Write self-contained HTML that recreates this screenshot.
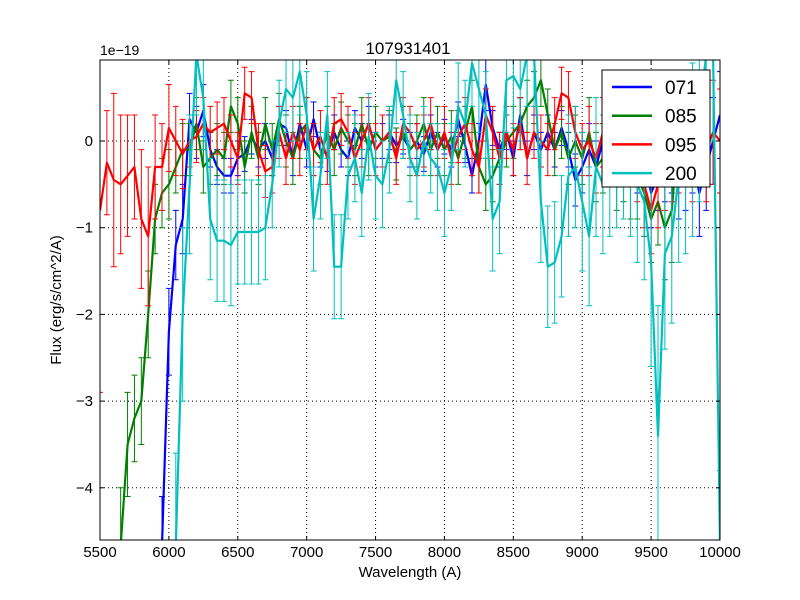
<!DOCTYPE html>
<html><head><meta charset="utf-8"><style>
html,body{margin:0;padding:0;background:#fff;font-family:"Liberation Sans",sans-serif;width:800px;height:600px;overflow:hidden}
svg{display:block}
svg text{font-family:"Liberation Sans",sans-serif}
</style></head><body>
<svg id="chart" width="800" height="600" xmlns="http://www.w3.org/2000/svg">
<rect width="800" height="600" fill="#fff"/>
<defs><clipPath id="pc"><rect x="100" y="60" width="620" height="480"/></clipPath></defs>
<g id="grid"></g>
<g id="series" clip-path="url(#pc)"></g>
<rect x="100" y="60" width="620" height="480" fill="none" stroke="#000"/>
<g id="ticks"></g>
<text x="408" y="54" text-anchor="middle" font-size="17">107931401</text>
<text x="100" y="55" font-size="14">1e−19</text>
<text x="410" y="577" text-anchor="middle" font-size="15">Wavelength (A)</text>
<text transform="translate(61,300) rotate(-90)" text-anchor="middle" font-size="15">Flux (erg/s/cm^2/A)</text>
<g id="legend">
<rect x="602" y="70" width="108" height="117" fill="#fff" stroke="#000"/>
</g>
</svg>
<script>
const xTicks=[5500,6000,6500,7000,7500,8000,8500,9000,9500,10000];
const yTicks=[0,-1,-2,-3,-4];
const yTickLabels=["0","−1","−2","−3","−4"];
const names=["071","085","095","200"];
const colors=["#0000ff","#008000","#ff0000","#00bfbf"];
const starts=[5950,5650,5500,6050];
const blueVals=[-4.7,-2.2,-1.2,-0.9,0.25,0.1,0.35,-0.1,-0.3,-0.4,-0.4,-0.2,-0.15,0.05,-0.1,0.0,-0.2,0.2,0.15,-0.2,0.2,-0.1,0.25,-0.1,-0.15,0.1,-0.1,-0.2,0.15,0.0,0.2,-0.1,0.0,0.1,-0.05,0.05,-0.1,0.0,-0.15,0.1,-0.1,0.05,-0.1,0.25,-0.05,-0.4,0.0,0.65,0.15,-0.1,0.1,-0.2,0.3,-0.2,0.1,-0.1,0.1,-0.1,0.15,-0.1,-0.45,-0.3,-0.1,-0.3,0.0,-0.2,0.1,-0.1,0.0,-0.3,-0.2,-0.6,-0.4,-0.3,-0.2,-0.5,-0.4,-0.2,-0.6,-0.3,0.0,0.3];
const blueErr=[0.6,0.5,0.4,0.4,0.3,0.3,0.3,0.2,0.2,0.2,0.2,0.2,0.2,0.2,0.2,0.2,0.2,0.2,0.2,0.2,0.2,0.2,0.2,0.2,0.2,0.2,0.2,0.2,0.2,0.2,0.2,0.2,0.2,0.2,0.2,0.2,0.2,0.2,0.2,0.2,0.2,0.2,0.2,0.2,0.2,0.2,0.2,0.3,0.2,0.2,0.2,0.2,0.2,0.2,0.2,0.2,0.2,0.2,0.2,0.2,0.3,0.3,0.3,0.3,0.3,0.3,0.3,0.3,0.3,0.3,0.3,0.4,0.4,0.4,0.4,0.4,0.4,0.4,0.5,0.5,0.5,0.5];
const greenVals=[-4.8,-3.5,-3.2,-3.0,-2.0,-0.9,-0.6,-0.5,-0.3,-0.1,-0.1,0.2,-0.3,-0.2,-0.1,-0.2,0.4,0.2,-0.3,0.1,-0.2,0.2,-0.1,0.25,0.0,-0.2,0.1,0.2,-0.1,-0.2,0.1,-0.1,0.15,0.0,-0.1,0.2,-0.1,0.1,0.0,0.05,-0.15,0.1,-0.1,0.0,0.2,-0.1,0.1,-0.1,0.05,-0.2,0.1,0.4,-0.3,-0.5,-0.4,-0.2,0.0,0.1,0.2,0.4,0.5,0.7,0.3,-0.1,0.1,-0.2,0.0,-0.2,0.1,-0.3,-0.2,0.0,-0.4,-0.3,-0.5,-0.4,-0.6,-0.9,-0.7,-1.0,-0.8,0.2];
const greenErr=[0.8,0.6,0.5,0.5,0.5,0.4,0.4,0.4,0.3,0.3,0.3,0.3,0.3,0.3,0.3,0.3,0.3,0.3,0.3,0.3,0.3,0.3,0.3,0.3,0.3,0.3,0.3,0.3,0.3,0.3,0.3,0.3,0.3,0.3,0.3,0.3,0.3,0.3,0.3,0.3,0.3,0.3,0.3,0.3,0.3,0.3,0.3,0.3,0.3,0.3,0.3,0.3,0.3,0.3,0.3,0.3,0.3,0.3,0.3,0.3,0.3,0.3,0.3,0.3,0.3,0.3,0.3,0.3,0.4,0.4,0.4,0.4,0.4,0.4,0.4,0.5,0.5,0.5,0.5,0.6,0.6,0.6];
const redVals=[-0.8,-0.25,-0.45,-0.5,-0.4,-0.3,-0.9,-1.1,-0.3,-0.3,0.15,0.0,-0.15,0.0,0.05,0.2,0.1,0.15,0.2,0.0,-0.2,0.55,0.5,-0.1,-0.35,-0.3,0.1,-0.2,0.1,-0.1,0.2,-0.1,0.05,-0.2,0.2,0.25,0.1,-0.2,0.0,0.2,-0.1,0.0,0.1,-0.2,0.2,0.1,-0.1,0.0,0.2,-0.1,0.1,-0.2,0.05,0.2,-0.1,-0.3,0.3,0.1,-0.2,0.1,-0.1,0.2,-0.2,0.1,0.0,-0.1,0.2,0.55,0.5,0.1,-0.1,0.0,-0.2,0.1,-0.1,0.0,0.2,-0.1,-0.3,-0.5,-0.8,-0.5,-0.3,-0.2,-0.1,0.1,-0.2,0.0,-0.1,0.1,0.0];
const redErr=[2.1,0.6,1.0,0.8,0.7,0.6,0.8,0.8,0.6,0.5,0.5,0.4,0.4,0.3,0.3,0.3,0.3,0.3,0.3,0.3,0.3,0.3,0.3,0.3,0.3,0.3,0.3,0.3,0.3,0.3,0.3,0.3,0.3,0.3,0.3,0.3,0.3,0.3,0.3,0.3,0.3,0.3,0.3,0.3,0.3,0.3,0.3,0.3,0.3,0.3,0.3,0.3,0.3,0.3,0.3,0.3,0.3,0.3,0.3,0.3,0.3,0.3,0.3,0.3,0.3,0.3,0.3,0.3,0.3,0.3,0.3,0.4,0.4,0.4,0.4,0.4,0.4,0.4,0.4,0.5,0.5,0.5,0.5,0.5,0.5,0.5,0.5,0.5,0.6,0.6,0.6];
const cyanVals=[-4.8,-2.0,-0.5,1.0,0.5,-0.9,-1.15,-1.15,-1.2,-1.05,-1.05,-1.05,-1.05,-1.0,-0.5,0.2,0.6,0.5,0.8,0.3,-0.9,-0.4,0.3,-1.45,-1.45,-0.4,-0.2,-0.6,0.05,-0.4,-0.5,-0.1,0.7,0.3,-0.2,-0.4,0.0,-0.2,-0.3,-0.6,-0.3,0.4,0.2,0.9,0.6,0.3,-0.9,-0.7,0.7,0.75,0.6,1.0,1.0,-0.7,-1.45,-1.4,-1.1,-0.4,-0.3,-0.7,-1.1,-0.3,-0.5,-0.3,-0.2,-0.1,-0.3,-0.5,-0.7,-1.4,-3.4,-1.3,-1.1,-0.4,-0.3,-0.1,0.3,1.0,1.0,-4.8];
const cyanErr=[1.2,1.0,0.8,0.7,0.6,0.7,0.7,0.7,0.7,0.6,0.6,0.6,0.6,0.6,0.5,0.5,0.5,0.5,0.5,0.5,0.6,0.5,0.5,0.6,0.6,0.5,0.5,0.5,0.5,0.5,0.5,0.5,0.5,0.5,0.5,0.5,0.4,0.4,0.5,0.5,0.5,0.5,0.5,0.5,0.5,0.5,0.6,0.6,0.6,0.6,0.6,0.6,0.6,0.7,0.7,0.7,0.7,0.7,0.7,0.8,0.8,0.8,0.8,0.8,0.8,0.8,0.8,0.9,0.9,1.2,1.5,1.1,1.0,1.0,1.0,1.0,1.0,1.0,1.0,1.0];
const allVals=[blueVals,greenVals,redVals,cyanVals];
const allErr=[blueErr,greenErr,redErr,cyanErr];
const step=50;
const NS="http://www.w3.org/2000/svg";
function xs(w){return 100+(w-5500)*620/4500;}
function ys(v){return Math.max(55,Math.min(545,141-v*86.7));}
function el(t,a,p){const e=document.createElementNS(NS,t);for(const k in a)e.setAttribute(k,a[k]);p.appendChild(e);return e;}
const grid=document.getElementById('grid'),ticks=document.getElementById('ticks'),ser=document.getElementById('series'),leg=document.getElementById('legend');
xTicks.forEach(t=>{const x=xs(t);
 const g=el('line',{x1:x,x2:x,y1:60,y2:540,stroke:'#000','stroke-dasharray':'1,3'},grid);
 
 
 el('line',{x1:x,x2:x,y1:540,y2:536,stroke:'#000'},ticks);el('line',{x1:x,x2:x,y1:60,y2:64,stroke:'#000'},ticks);
 const tx=el('text',{x:x,y:557,'text-anchor':'middle','font-size':15},ticks);tx.textContent=t;
 
 });
yTicks.forEach((t,i)=>{const y=ys(t);
 const g=el('line',{x1:100,x2:720,y1:y,y2:y,stroke:'#000','stroke-dasharray':'1,3'},grid);
 
 
 el('line',{x1:100,x2:104,y1:y,y2:y,stroke:'#000'},ticks);el('line',{x1:720,x2:716,y1:y,y2:y,stroke:'#000'},ticks);
 const tx=el('text',{x:93,y:y+5,'text-anchor':'end','font-size':15},ticks);tx.textContent=yTickLabels[i];
 
 });
allVals.forEach((vals,s)=>{
 const g=el('g',{},ser);
 
 
 let pts=[];
 vals.forEach((v,i)=>{const w=starts[s]+i*step,x=xs(w),e=allErr[s][i]||0.3;
  const y1=ys(v+e),y2=ys(v-e);
  const eb=el('path',{d:`M${x},${y1}V${y2}M${x-3},${y1}H${x+3}M${x-3},${y2}H${x+3}`,stroke:colors[s],'stroke-width':1,fill:'none'},g);
  
  
  pts.push(x.toFixed(1)+','+ys(v).toFixed(1));});
 const ln=el('polyline',{points:pts.join(' '),fill:'none',stroke:colors[s],'stroke-width':2.2,'stroke-linejoin':'round'},g);
 
 
});
names.forEach((n,i)=>{const y=87+i*28.7;
 const l=el('line',{x1:612,x2:652,y1:y,y2:y,stroke:colors[i],'stroke-width':2.5},leg);
 
 
 const t=el('text',{x:665,y:y+7,'font-size':19},leg);t.textContent=n;
 
 });
</script>
</body></html>
